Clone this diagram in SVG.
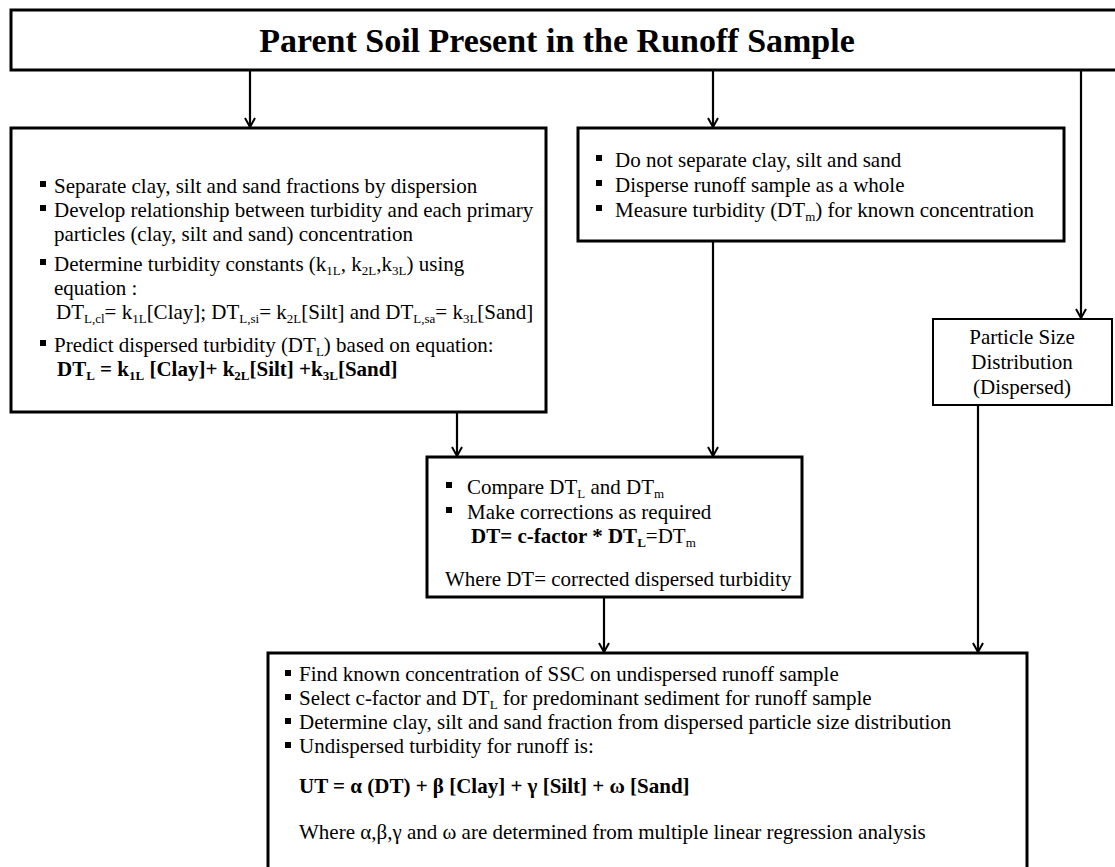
<svg xmlns="http://www.w3.org/2000/svg" width="1115" height="867" viewBox="0 0 1115 867">
<defs>
<style>
.box{fill:#fff;stroke:#000;stroke-width:3}
.thin{fill:#fff;stroke:#000;stroke-width:2}
.t{font-family:"Liberation Serif","Times New Roman",serif;font-size:21px;fill:#000}
.b{font-weight:bold}
.title{font-family:"Liberation Serif","Times New Roman",serif;font-size:34px;font-weight:bold;fill:#000}
.s{font-size:13px}
.conn line{stroke:#000;stroke-width:2.2;fill:none}
</style>
<marker id="ah" markerWidth="12" markerHeight="12" refX="10" refY="6" orient="auto" markerUnits="userSpaceOnUse">
<path d="M1,1 L10,6 L1,11" fill="none" stroke="#000" stroke-width="2"/>
</marker>
<rect id="bul" width="6" height="6" fill="#000"/>
</defs>
<rect width="1115" height="867" fill="#fff"/>

<g id="connectors" class="conn">
<line x1="250" y1="70" x2="250" y2="127" marker-end="url(#ah)"/>
<line x1="713" y1="70" x2="713" y2="127" marker-end="url(#ah)"/>
<line x1="1081" y1="70" x2="1081" y2="318" marker-end="url(#ah)"/>
<line x1="457" y1="412" x2="457" y2="456" marker-end="url(#ah)"/>
<line x1="713" y1="241" x2="713" y2="456" marker-end="url(#ah)"/>
<line x1="604" y1="597" x2="604" y2="652" marker-end="url(#ah)"/>
<line x1="978" y1="405" x2="978" y2="652" marker-end="url(#ah)"/>
</g>

<g id="top">
<rect class="box" x="11" y="10" width="1120" height="60"/>
<text class="title" x="557" y="52" text-anchor="middle">Parent Soil Present in the Runoff Sample</text>
</g>

<g id="left">
<rect class="box" x="11" y="128" width="535" height="284"/>
<use href="#bul" x="40" y="181"/>
<text class="t" x="54" y="193">Separate clay, silt and sand fractions by dispersion</text>
<use href="#bul" x="40" y="205"/>
<text class="t" x="54" y="217">Develop relationship between turbidity and each primary</text>
<text class="t" x="54" y="241">particles (clay, silt and sand) concentration</text>
<use href="#bul" x="40" y="259"/>
<text class="t" x="54" y="271">Determine turbidity constants (k<tspan class="s" dy="4">1L</tspan><tspan dy="-4">, k</tspan><tspan class="s" dy="4">2L</tspan><tspan dy="-4">,k</tspan><tspan class="s" dy="4">3L</tspan><tspan dy="-4">) using</tspan></text>
<text class="t" x="54" y="295">equation :</text>
<text class="t" x="56" y="319">DT<tspan class="s" dy="4">L,cl</tspan><tspan dy="-4">= k</tspan><tspan class="s" dy="4">1L</tspan><tspan dy="-4">[Clay]; DT</tspan><tspan class="s" dy="4">L,si</tspan><tspan dy="-4">= k</tspan><tspan class="s" dy="4">2L</tspan><tspan dy="-4">[Silt] and DT</tspan><tspan class="s" dy="4">L,sa</tspan><tspan dy="-4">= k</tspan><tspan class="s" dy="4">3L</tspan><tspan dy="-4">[Sand]</tspan></text>
<use href="#bul" x="40" y="340"/>
<text class="t" x="54" y="352">Predict dispersed turbidity (DT<tspan class="s" dy="4">L</tspan><tspan dy="-4">) based on equation:</tspan></text>
<text class="t b" x="57" y="376">DT<tspan class="s" dy="4">L</tspan><tspan dy="-4"> = k</tspan><tspan class="s" dy="4">1L</tspan><tspan dy="-4"> [Clay]+ k</tspan><tspan class="s" dy="4">2L</tspan><tspan dy="-4">[Silt] +k</tspan><tspan class="s" dy="4">3L</tspan><tspan dy="-4">[Sand]</tspan></text>
</g>

<g id="middle">
<rect class="box" x="578" y="128" width="486" height="113"/>
<use href="#bul" x="596" y="155"/>
<text class="t" x="615" y="167">Do not separate clay, silt and sand</text>
<use href="#bul" x="596" y="180"/>
<text class="t" x="615" y="192">Disperse runoff sample as a whole</text>
<use href="#bul" x="596" y="205"/>
<text class="t" x="615" y="217">Measure turbidity (DT<tspan class="s" dy="4">m</tspan><tspan dy="-4">) for known concentration</tspan></text>
</g>

<g id="psd">
<rect class="thin" x="933" y="319" width="179" height="86"/>
<text class="t" x="1022" y="344" text-anchor="middle">Particle Size</text>
<text class="t" x="1022" y="369" text-anchor="middle">Distribution</text>
<text class="t" x="1022" y="394" text-anchor="middle">(Dispersed)</text>
</g>

<g id="compare">
<rect class="box" x="427" y="457" width="375" height="140"/>
<use href="#bul" x="446" y="482"/>
<text class="t" x="467" y="494">Compare DT<tspan class="s" dy="4">L</tspan><tspan dy="-4"> and DT</tspan><tspan class="s" dy="4">m</tspan></text>
<use href="#bul" x="446" y="507"/>
<text class="t" x="467" y="519">Make corrections as required</text>
<text class="t" x="471" y="543"><tspan class="b">DT= c-factor * DT</tspan><tspan class="s b" dy="4">L</tspan><tspan dy="-4">=DT</tspan><tspan class="s" dy="4">m</tspan></text>
<text class="t" x="445" y="586">Where DT= corrected dispersed turbidity</text>
</g>

<g id="bottom">
<rect class="box" x="268" y="653" width="759" height="230"/>
<use href="#bul" x="285" y="670"/>
<text class="t" x="299" y="681">Find known concentration of SSC on undispersed runoff sample</text>
<use href="#bul" x="285" y="694"/>
<text class="t" x="299" y="705">Select c-factor and DT<tspan class="s" dy="4">L</tspan><tspan dy="-4"> for predominant sediment for runoff sample</tspan></text>
<use href="#bul" x="285" y="718"/>
<text class="t" x="299" y="729">Determine clay, silt and sand fraction from dispersed particle size distribution</text>
<use href="#bul" x="285" y="742"/>
<text class="t" x="299" y="753">Undispersed turbidity for runoff is:</text>
<text class="t b" x="299" y="793">UT = α (DT) + β [Clay] + γ [Silt] + ω [Sand]</text>
<text class="t" x="299" y="839">Where α,β,γ and ω are determined from multiple linear regression analysis</text>
</g>
</svg>
